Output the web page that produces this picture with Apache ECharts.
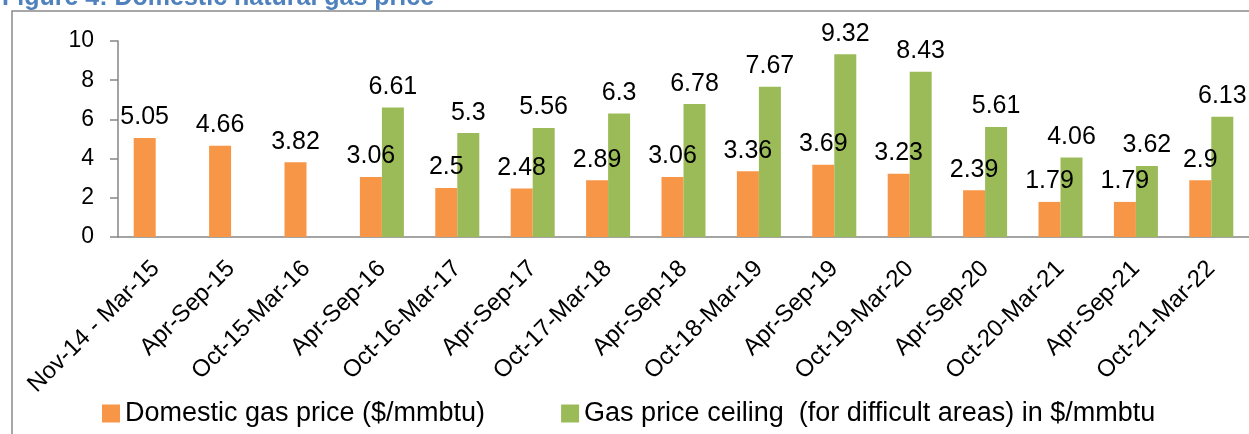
<!DOCTYPE html>
<html>
<head>
<meta charset="utf-8">
<script src="https://cdn.jsdelivr.net/npm/echarts@6/dist/echarts.min.js"></script>
<style>
  html, body { margin: 0; padding: 0; background: #fff; }
  #main { width: 1249px; height: 434px; }
</style>
</head>
<body>
<div id="main"></div>
<script>
const periods = ['Nov-14 - Mar-15', 'Apr-Sep-15', 'Oct-15-Mar-16', 'Apr-Sep-16', 'Oct-16-Mar-17',
  'Apr-Sep-17', 'Oct-17-Mar-18', 'Apr-Sep-18', 'Oct-18-Mar-19', 'Apr-Sep-19', 'Oct-19-Mar-20',
  'Apr-Sep-20', 'Oct-20-Mar-21', 'Apr-Sep-21', 'Oct-21-Mar-22']
const domesticPrice = [5.05, 4.66, 3.82, 3.06, 2.5, 2.48, 2.89, 3.06, 3.36, 3.69, 3.23, 2.39, 1.79, 1.79, 2.9]
const ceilingPrice = [null, null, null, 6.61, 5.3, 5.56, 6.3, 6.78, 7.67, 9.32, 8.43, 5.61, 4.06, 3.62, 6.13]
const yTicks = [0, 2, 4, 6, 8, 10]

const font = 'Liberation Sans'
const chart = echarts.init(document.getElementById('main'))

const barLabel = {
  show: true,
  position: 'top',
  distance: 8,
  color: '#000',
  fontFamily: font,
  fontSize: 25
}

const option = {
  animation: false,
  title: {
    text: 'Figure 4: Domestic natural gas price',
    left: -3,
    top: -19,
    textStyle: { color: '#4F81BD', fontFamily: font, fontSize: 25, fontWeight: 'bold' }
  },
  graphic: [{
    type: 'rect',
    shape: { x: 12, y: 11, width: 1300, height: 500 },
    style: { fill: 'none', stroke: '#8a8a8a', lineWidth: 1.5 },
    z: -1
  }],
  legend: {
    left: 97,
    top: 395,
    itemWidth: 18,
    itemHeight: 18,
    itemGap: 76,
    icon: 'rect',
    textStyle: { fontFamily: font, fontSize: 27, color: '#000' },
    data: ['Domestic gas price ($/mmbtu)', 'Gas price ceiling  (for difficult areas) in $/mmbtu']
  },
  grid: { left: 118, right: -6, top: 41, bottom: 197 },
  xAxis: {
    type: 'category',
    data: periods,
    axisLine: { lineStyle: { color: '#868686', width: 1.5 } },
    axisTick: { length: 8, lineStyle: { color: '#868686', width: 1.5 } },
    axisLabel: {
      interval: 0,
      rotate: 45,
      margin: 28,
      color: '#000',
      fontFamily: font,
      fontSize: 24
    }
  },
  yAxis: {
    type: 'value',
    min: yTicks[0],
    max: yTicks[yTicks.length - 1],
    interval: yTicks[1] - yTicks[0],
    splitLine: { show: false },
    axisLine: { show: true, lineStyle: { color: '#868686', width: 1.5 } },
    axisTick: { show: true, length: 8, lineStyle: { color: '#868686', width: 1.5 } },
    axisLabel: { margin: 24, color: '#000', fontFamily: font, fontSize: 23 }
  },
  series: [
    {
      name: 'Domestic gas price ($/mmbtu)',
      type: 'bar',
      data: domesticPrice,
      barWidth: 22,
      barGap: '0%',
      itemStyle: { color: '#F79646' },
      label: barLabel
    },
    {
      name: 'Gas price ceiling  (for difficult areas) in $/mmbtu',
      type: 'bar',
      data: ceilingPrice,
      barWidth: 22,
      barGap: '0%',
      itemStyle: { color: '#9BBB59' },
      label: barLabel
    }
  ]
}

chart.setOption(option)
</script>
</body>
</html>
